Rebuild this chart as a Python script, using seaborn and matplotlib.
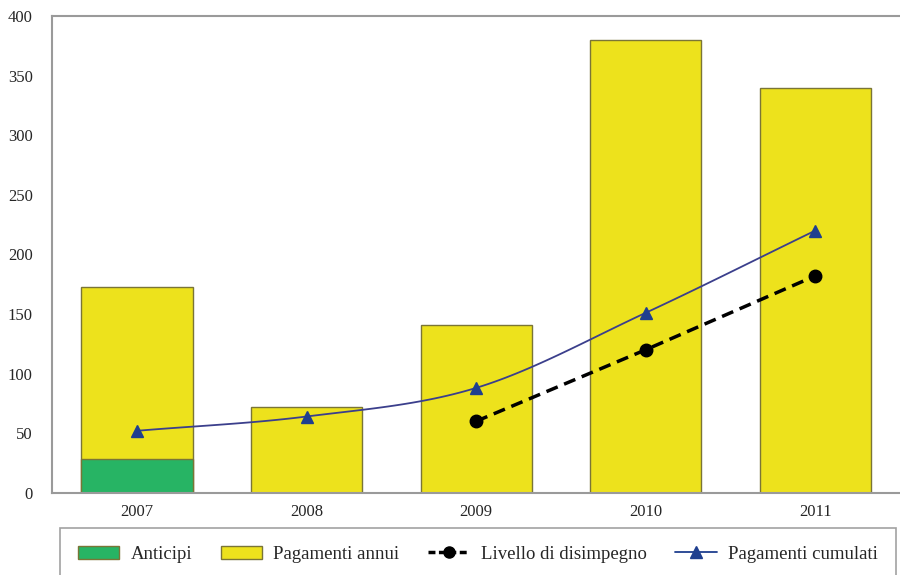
import numpy as np
import pandas as pd
import seaborn as sns
import matplotlib.pyplot as plt
from matplotlib.patches import Patch
from matplotlib.lines import Line2D

# Data
anni = ['2007', '2008', '2009', '2010', '2011']
anticipi = [28, 0, 0, 0, 0]
pagamenti_annui = [145, 72, 141, 380, 340]
disimpegno_anni = ['2009', '2010', '2011']
disimpegno = [60, 120, 182]
cumulati = [52, 64, 88, 151, 220]

yellow = '#EDE21C'
green = '#27B464'
edge = '#7A7536'
blue = '#1F3F8F'

sns.set_style('white')
plt.rcParams['font.family'] = ['Liberation Serif', 'DejaVu Serif']

df = pd.DataFrame({'anno': anni, 'anticipi': anticipi, 'annui': pagamenti_annui})
df['totale'] = df['anticipi'] + df['annui']

fig = plt.figure(figsize=(9, 5.75), dpi=100)
ax = fig.add_axes([0.058, 0.143, 0.942, 0.829])

# Stacked bars: total in yellow, anticipi drawn over it in green
sns.barplot(data=df, x='anno', y='totale', color=yellow, saturation=1,
            width=0.655, edgecolor=edge, linewidth=1, ax=ax)
sns.barplot(data=df, x='anno', y='anticipi', color=green, saturation=1,
            width=0.655, edgecolor=edge, linewidth=1, ax=ax)

# Smoothed cumulative line (Catmull-Rom through the points)
xp = np.arange(len(anni), dtype=float)
yp = np.array(cumulati, dtype=float)
P = np.concatenate([[2 * yp[0] - yp[1]], yp, [2 * yp[-1] - yp[-2]]])
xs, ys = [], []
for i in range(len(yp) - 1):
    t = np.linspace(0, 1, 30)
    p0, p1, p2, p3 = P[i], P[i + 1], P[i + 2], P[i + 3]
    seg = 0.5 * ((2 * p1) + (-p0 + p2) * t + (2 * p0 - 5 * p1 + 4 * p2 - p3) * t ** 2
                 + (-p0 + 3 * p1 - 3 * p2 + p3) * t ** 3)
    xs.extend(xp[i] + t)
    ys.extend(seg)
ax.plot(xs, ys, color='#3B3F8C', lw=1.3, zorder=3)
ax.plot(xp, yp, ls='none', marker='^', ms=8, color=blue, zorder=4)

# Livello di disimpegno
xd = [anni.index(a) for a in disimpegno_anni]
ax.plot(xd, disimpegno, color='black', ls=(0, (3.5, 2)), lw=2.5,
        marker='o', ms=9, markerfacecolor='black', zorder=5)

ax.set_xlim(-0.5, 4.5)
ax.set_ylim(0, 400)
ax.set_yticks(range(0, 401, 50))
ax.set_xlabel('')
ax.set_ylabel('')
ax.tick_params(axis='both', labelsize=12, length=0, pad=8)
ax.tick_params(axis='y', pad=14)
for s in ['left', 'top', 'bottom']:
    ax.spines[s].set_color('#9A9A9A')
    ax.spines[s].set_linewidth(1.5)
ax.spines['right'].set_visible(False)

handles = [
    Patch(facecolor=green, edgecolor=edge, label='Anticipi'),
    Patch(facecolor=yellow, edgecolor=edge, label='Pagamenti annui'),
    Line2D([], [], color='black', ls=(0, (2, 1)), lw=2.5, marker='o', ms=8,
           label='Livello di disimpegno'),
    Line2D([], [], color=blue, lw=1.3, marker='^', ms=8,
           label='Pagamenti cumulati'),
]
leg = fig.legend(handles=handles, loc='upper left', ncol=4, mode='expand',
                 bbox_to_anchor=(0.067, 0.0, 0.928, 0.082), fontsize=13.5,
                 borderaxespad=0, frameon=True, fancybox=False, handlelength=2.2,
                 handletextpad=0.6, borderpad=0.95)
leg.get_frame().set_edgecolor('#8A8A8A')
leg.get_frame().set_linewidth(1.2)

fig.savefig('out.png', dpi=100)
